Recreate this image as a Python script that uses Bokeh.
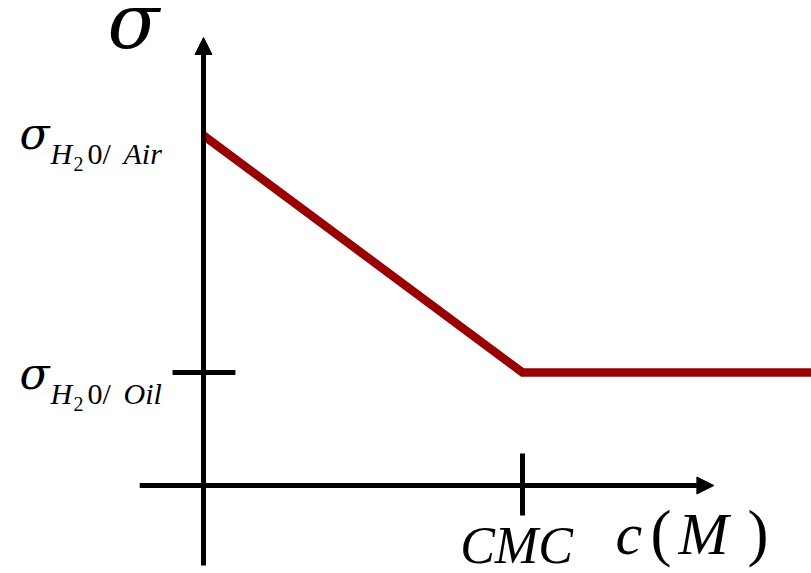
from bokeh.plotting import figure
from bokeh.models import Range1d, Arrow, NormalHead, Label
from bokeh.embed import file_html
from bokeh.resources import INLINE

# ---- data (schematic surface tension vs. surfactant concentration) ----
CMC = 1.0                       # critical micelle concentration (arb. units)
c_values = [0.0, CMC, 1.95]     # concentration
sigma_air = 3.5                 # sigma H2O/Air (arb. units)
sigma_oil = 1.13                # sigma H2O/Oil (arb. units)
sigma_values = [sigma_air, sigma_oil, sigma_oil]

x_axis_label = ["c", "(", "M", ")"]
cmc_label = "CMC"
y_axis_label = "σ"

# ---- scale (pixels per unit) ----
PX_C = 319.0
PX_S = 100.0
W, H = 811, 573
X0 = 203.0    # pixel (from canvas left) of c = 0
Y0 = 485.0    # pixel (from canvas top) of sigma = 0

p = figure(width=W, height=H, output_backend="svg", toolbar_location=None,
           x_range=Range1d(-X0 / PX_C, (W - X0) / PX_C),
           y_range=Range1d(-(H - Y0) / PX_S, Y0 / PX_S),
           x_axis_type=None, y_axis_type=None, min_border=0,
           outline_line_color=None, background_fill_color="white",
           border_fill_color="white")
p.grid.visible = False

x_start = -0.2
x_tip = 1.6
y_bottom = -0.8
y_tip = 4.48

FONT = "Liberation Serif"
GREEK = "DejaVu Serif"
BLACK = "#000000"

# axes with arrow heads
p.add_layout(Arrow(end=NormalHead(size=17, fill_color=BLACK, line_color=BLACK, line_width=1),
                   x_start=x_start, y_start=0, x_end=x_tip, y_end=0,
                   line_width=5, line_color=BLACK))
p.add_layout(Arrow(end=NormalHead(size=17, fill_color=BLACK, line_color=BLACK, line_width=1),
                   x_start=0, y_start=y_bottom, x_end=0, y_end=y_tip,
                   line_width=5, line_color=BLACK))

# ticks
p.segment(x0=[-0.097], y0=[sigma_oil], x1=[0.10], y1=[sigma_oil], line_width=5, line_color=BLACK)
p.segment(x0=[CMC], y0=[-0.30], x1=[CMC], y1=[0.32], line_width=5, line_color=BLACK)

# the curve
p.line(c_values, sigma_values, line_width=8.5, line_color="#990000", line_join="miter")

def lab(x, y, text, dx, dy, size, italic=True, align="left", font=FONT):
    p.add_layout(Label(x=x, y=y, x_offset=dx, y_offset=dy, text=text,
                       text_font=font, text_font_size=f"{size}px",
                       text_font_style="italic" if italic else "normal",
                       text_color=BLACK, text_align=align,
                       text_baseline="alphabetic"))

# subscripts H2O/Air
lab(0, sigma_air, "H", -153, -18, 30)
lab(0, sigma_air, "2", -130, -28, 20, italic=False)
lab(0, sigma_air, "0/", -116, -18, 30, italic=False)
lab(0, sigma_air, "Air", -80, -18, 30)

# subscripts H2O/Oil
lab(0, sigma_oil, "H", -153, -21, 30)
lab(0, sigma_oil, "2", -130, -31, 20, italic=False)
lab(0, sigma_oil, "0/", -116, -21, 30, italic=False)
lab(0, sigma_oil, "Oil", -80, -21, 30)

# CMC label
lab(CMC, 0, cmc_label, -6, -60, 52, align="center")

# c(M) label
lab(CMC, 0, x_axis_label[0], 93, -48, 60)
lab(CMC, 0, x_axis_label[1], 128, -47, 63, italic=False)
lab(CMC, 0, x_axis_label[2], 156, -48, 60)
lab(CMC, 0, x_axis_label[3], 225, -47, 63, italic=False)

# Greek sigma labels (drawn last)
lab(0, sigma_air, "σ", -184, 2, 44, font=GREEK)
lab(0, sigma_oil, "σ", -184, -1, 44, font=GREEK)
lab(0, y_tip, y_axis_label, -96, 16, 76, font=GREEK)

open("out.html", "w").write(file_html(p, INLINE))
